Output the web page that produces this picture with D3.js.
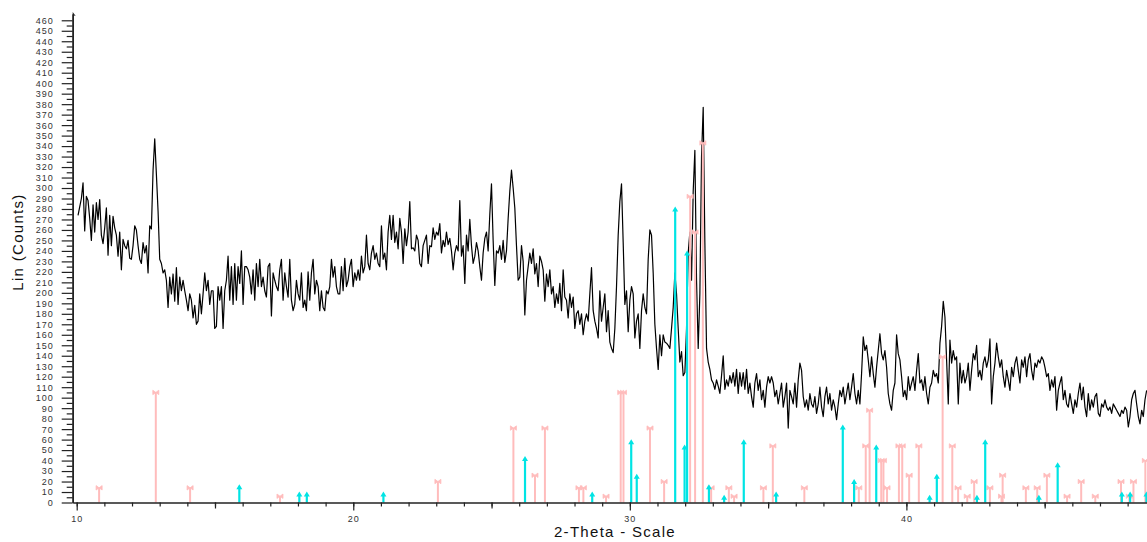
<!DOCTYPE html>
<html><head><meta charset="utf-8">
<script src="https://cdn.jsdelivr.net/npm/d3@7"></script>
<style>html,body{margin:0;padding:0;background:#fff;} svg{display:block;font-family:"Liberation Sans",Arial,sans-serif;}</style>
</head><body><svg id="c" width="1147" height="542"></svg>
<script>
// Measured scan: start angle and step (2-Theta, degrees)
const scanStart = 10.048;
const scanStep = 0.06028;
// Lin (Counts)
const counts = [
274,282,290,305,259,292,288,271,250,284,
258,286,270,289,255,247,262,281,236,274,
245,273,262,255,235,258,222,251,245,242,
250,233,232,245,264,260,245,232,228,248,
238,245,219,264,261,317,347,313,278,232,
228,219,222,212,186,215,199,218,192,224,
189,215,202,212,202,193,183,199,193,176,
188,170,173,199,180,199,219,202,212,189,
202,202,166,168,206,193,206,166,202,212,
235,193,225,189,228,193,225,209,240,189,
225,225,222,215,199,222,193,228,206,232,
206,215,202,196,225,228,178,219,212,206,
202,222,232,193,219,206,196,232,193,183,
189,212,199,193,219,186,193,183,220,193,
219,232,199,212,206,183,202,186,183,202,
199,206,232,215,225,206,199,199,225,202,
233,206,212,225,232,206,219,212,222,212,
235,219,225,255,228,222,238,245,232,238,
228,225,264,232,238,222,258,274,251,274,
248,258,242,271,258,228,261,245,258,287,
242,
243,240,255,250,228,225,245,250,255,228,
245,244,262,251,258,255,266,238,250,244,
258,246,252,240,222,238,245,240,288,235,
245,209,255,240,270,245,228,235,248,240,
225,212,238,252,258,240,275,304,250,207,
240,238,245,232,250,229,240,271,297,317,
300,281,245,212,215,245,230,179,212,225,
238,228,242,218,228,206,235,230,222,192,
218,206,222,199,206,186,199,190,209,183,
222,196,193,176,199,186,196,166,180,183,
170,180,160,173,180,173,199,224,183,173,
166,157,202,173,186,199,163,183,153,147,
143,166,206,255,287,304,
248,189,202,163,193,206,199,157,173,180,
147,183,199,186,180,232,260,255,219,170,
147,127,160,140,160,153,152,150,147,166,
186,219,199,166,134,144,121,124,166,238,
258,212,297,336,212,147,199,330,377,248,
147,134,127,117,114,108,117,111,104,121,
140,108,117,111,121,114,124,111,127,104,
124,111,124,108,127,104,
114,101,91,114,123,107,117,98,107,91,
110,120,114,120,114,101,107,94,104,114,
91,101,114,71,107,101,94,114,91,117,
133,126,101,91,98,88,104,94,91,101,
85,94,110,91,82,101,110,94,104,88,
98,91,79,94,107,101,110,94,104,114,
98,110,123,104,94,107,94,123,158,145,
150,136,120,139,123,110,129,145,161,142,
136,145,129,104,94,88,107,114,160,142,
136,120,101,107,98,120,107,114,120,107,
126,142,114,117,107,120,104,94,110,114,
126,120,123,114,152,168,192,177,136,94,
155,133,145,136,139,94,133,114,126,114,
120,133,107,126,142,136,150,120,126,117,
133,139,129,136,156,94,120,133,152,139,
129,136,120,110,126,117,107,129,120,133,
139,126,114,136,129,139,120,136,142,126,
117,133,129,136,133,139,136,129,120,123,
107,117,110,120,88,107,114,120,98,107,
94,91,104,94,85,98,91,104,114,98,
110,91,82,104,88,98,91,101,104,85,
82,94,91,98,91,88,91,85,94,91,
88,85,82,88,85,91,88,72,82,98,
104,107,94,82,75,88,82,98,107
];
// Reference pattern 1 (pink sticks)
const pinkPos = [10.81,12.86,14.10,17.35,23.06,25.79,26.57,26.93,28.16,28.32,29.14,29.67,29.77,30.73,31.24,32.18,32.36,32.64,32.94,33.58,33.77,34.83,35.17,36.31,38.28,38.53,38.67,39.09,39.17,39.30,39.73,39.85,40.10,40.45,41.31,41.66,41.87,42.20,42.45,43.02,43.44,43.48,44.32,44.73,45.08,45.81,46.32,46.83,47.76,48.06,48.21,48.64];
const pinkCounts = [14,105,14,6,20,71,26,71,14,14,6,105,105,71,20,292,258,343,14,14,6,14,54,14,14,54,88,40,40,14,54,54,26,54,139,54,14,6,20,14,6,26,14,14,26,6,20,6,20,6,20,40];
// Reference pattern 2 (cyan sticks)
const cyanPos = [15.88,18.05,18.32,21.09,26.21,28.64,30.05,30.25,31.64,31.98,32.07,32.86,33.41,34.12,35.29,37.70,38.11,38.91,40.84,41.10,42.55,42.85,44.79,45.47,47.79,48.09,48.68];
const cyanCounts = [15,8,8,8,42,8,58,25,280,53,238,15,5,58,8,72,20,53,5,25,5,58,5,36,8,8,8];
const yLabelValues = d3.range(0, 461, 10);
const yMinorValues = d3.range(5, 461, 10);
const xLabelValues = [10, 20, 30, 40];
const xMidValues = [15, 25, 35, 45];
const xMinorValues = d3.range(10, 49, 1);

const svg = d3.select("#c");
const x = d3.scaleLinear().domain([9.855, 48.70]).range([72.7, 1147]);
const y = d3.scaleLinear().domain([0, 466]).range([502.5, 14]);

const axisColor = "#222";
// Curve
const line = d3.line().x((d, i) => x(scanStart + i * scanStep)).y(d => y(d));
svg.append("path").datum(counts).attr("d", line)
  .attr("fill", "none").attr("stroke", "#000").attr("stroke-width", 1.2).attr("stroke-linejoin", "round");

// Sticks
const pink = pinkPos.map((p, i) => ({p, v: pinkCounts[i]}));
const cyan = cyanPos.map((p, i) => ({p, v: cyanCounts[i]}));
const pc = "#ffbcbc", cc = "#00e4e4";
svg.append("g").selectAll("line").data(pink).join("line")
  .attr("x1", d => x(d.p)).attr("x2", d => x(d.p)).attr("y1", y(0)).attr("y2", d => y(d.v))
  .attr("stroke", pc).attr("stroke-width", 2);
svg.append("g").selectAll("path").data(pink).join("path")
  .attr("transform", d => `translate(${x(d.p)},${y(d.v)})`)
  .attr("d", "M-3,-2.2 L3,2.2 L3,-2.2 L-3,2.2 Z").attr("fill", pc).attr("stroke", pc).attr("stroke-width", 0.8);
svg.append("g").selectAll("line").data(cyan).join("line")
  .attr("x1", d => x(d.p)).attr("x2", d => x(d.p)).attr("y1", y(0)).attr("y2", d => y(d.v))
  .attr("stroke", cc).attr("stroke-width", 2.2);
svg.append("g").selectAll("path").data(cyan).join("path")
  .attr("transform", d => `translate(${x(d.p)},${y(d.v)})`)
  .attr("d", "M0,-2.5 L3,2.5 L-3,2.5 Z").attr("fill", cc);

// Axes
function styleAxis(g) {
  g.selectAll("path.domain").attr("stroke", axisColor).attr("stroke-width", 1.5);
  g.selectAll(".tick line").attr("stroke", axisColor).attr("stroke-width", 1.2);
  g.selectAll("text").attr("fill", "#333").style("font-size", "9px").style("letter-spacing", "1px")
    .style("font-family", '"Liberation Sans", Arial, sans-serif');
}
const yAxisMinor = svg.append("g").attr("transform", `translate(${x.range()[0]},0)`)
  .call(d3.axisLeft(y).tickValues(yMinorValues).tickSize(6).tickSizeOuter(0).tickFormat(""));
styleAxis(yAxisMinor);
const yAxis = svg.append("g").attr("transform", `translate(${x.range()[0]},0)`)
  .call(d3.axisLeft(y).tickValues(yLabelValues).tickSize(11).tickSizeOuter(0).tickPadding(8));
styleAxis(yAxis);
svg.append("path").attr("transform", `translate(${x.range()[0]},${y.range()[1]})`)
  .attr("d", "M0,-2 L3,2 L0,1 Z").attr("fill", axisColor);

const xAxisMinor = svg.append("g").attr("transform", `translate(0,${y(0)})`)
  .call(d3.axisBottom(x).tickValues(xMinorValues).tickSize(4).tickSizeOuter(0).tickFormat(""));
styleAxis(xAxisMinor);
const xAxisMid = svg.append("g").attr("transform", `translate(0,${y(0)})`)
  .call(d3.axisBottom(x).tickValues(xMidValues).tickSize(6).tickSizeOuter(0).tickFormat(""));
styleAxis(xAxisMid);
xAxisMid.select("path.domain").remove();
const xAxis = svg.append("g").attr("transform", `translate(0,${y(0)})`)
  .call(d3.axisBottom(x).tickValues(xLabelValues).tickSize(8).tickSizeOuter(0).tickPadding(5));
styleAxis(xAxis);
xAxis.select("path.domain").remove();

// Titles
svg.append("text").attr("x", 615).attr("y", 537)
  .attr("text-anchor", "middle").style("font-size", "15px").style("letter-spacing", "1.3px")
  .attr("fill", "#111").text("2-Theta - Scale");
svg.append("text").attr("transform", "translate(23,242) rotate(-90)")
  .attr("text-anchor", "middle").style("font-size", "15px").style("letter-spacing", "1.3px")
  .attr("fill", "#111").text("Lin (Counts)");
</script></body></html>
